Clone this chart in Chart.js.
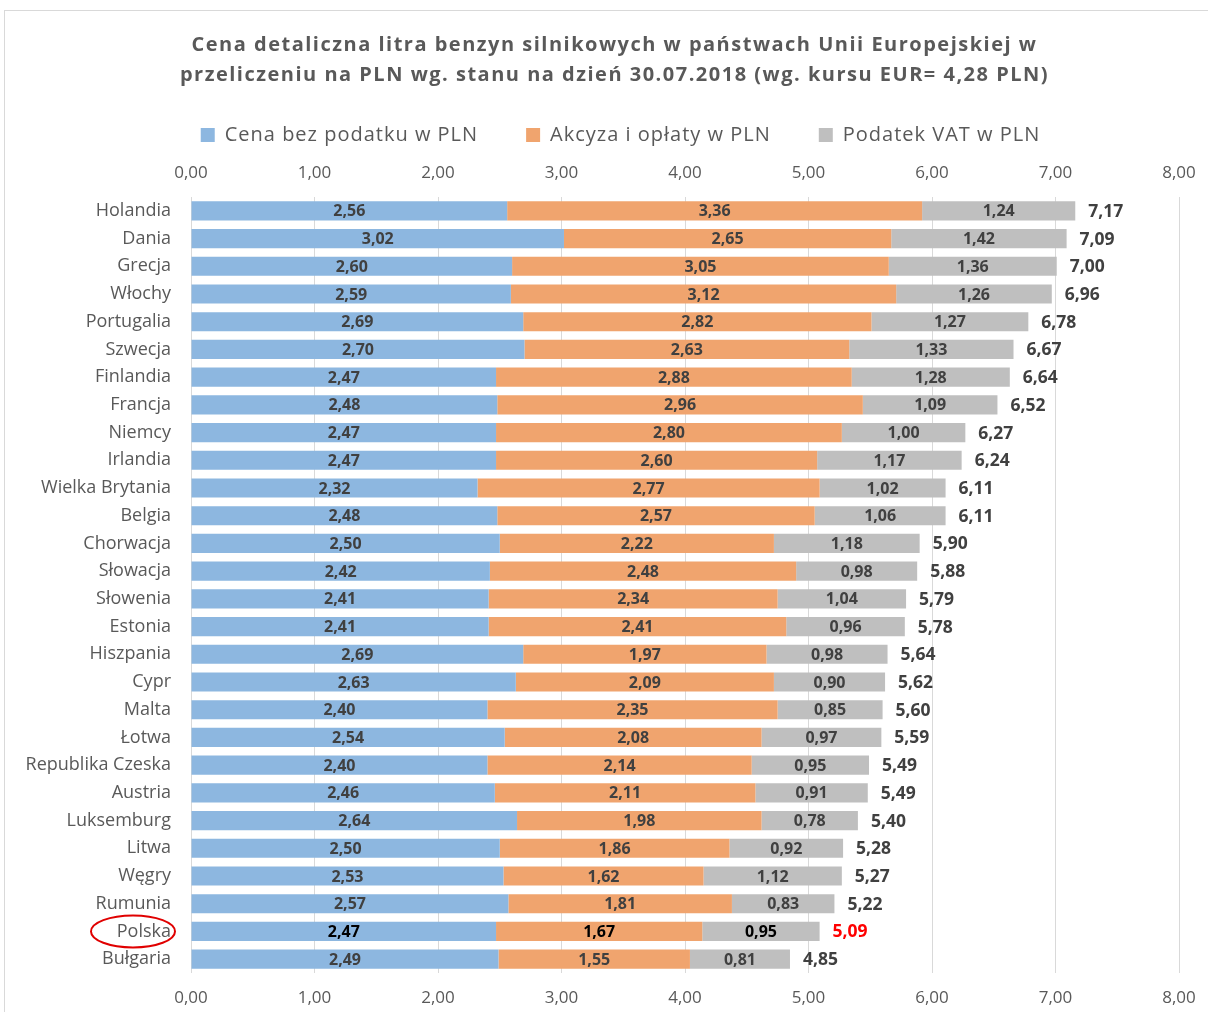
<!DOCTYPE html>
<html>
<head>
<meta charset="utf-8">
<script src="https://cdn.jsdelivr.net/npm/chart.js@4.4.1/dist/chart.umd.min.js"></script>
<style>
  html, body { margin: 0; padding: 0; background: #fff; }
  #wrap { width: 1208px; height: 1012px; position: relative; }
</style>
</head>
<body>
<div id="wrap"><canvas id="c" width="1208" height="1012"></canvas></div>
<script>
const titleLines = [
  'Cena detaliczna litra benzyn silnikowych w państwach Unii Europejskiej w',
  'przeliczeniu na PLN wg. stanu na dzień 30.07.2018 (wg. kursu EUR= 4,28 PLN)'
];
const seriesNames = ['Cena bez podatku w PLN', 'Akcyza i opłaty w PLN', 'Podatek VAT w PLN'];
const countries = ['Holandia','Dania','Grecja','Włochy','Portugalia','Szwecja','Finlandia','Francja','Niemcy','Irlandia','Wielka Brytania','Belgia','Chorwacja','Słowacja','Słowenia','Estonia','Hiszpania','Cypr','Malta','Łotwa','Republika Czeska','Austria','Luksemburg','Litwa','Węgry','Rumunia','Polska','Bułgaria'];
const netPrice = [2.56,3.02,2.60,2.59,2.69,2.70,2.47,2.48,2.47,2.47,2.32,2.48,2.50,2.42,2.41,2.41,2.69,2.63,2.40,2.54,2.40,2.46,2.64,2.50,2.53,2.57,2.47,2.49];
const excise = [3.36,2.65,3.05,3.12,2.82,2.63,2.88,2.96,2.80,2.60,2.77,2.57,2.22,2.48,2.34,2.41,1.97,2.09,2.35,2.08,2.14,2.11,1.98,1.86,1.62,1.81,1.67,1.55];
const vat = [1.24,1.42,1.36,1.26,1.27,1.33,1.28,1.09,1.00,1.17,1.02,1.06,1.18,0.98,1.04,0.96,0.98,0.90,0.85,0.97,0.95,0.91,0.78,0.92,1.12,0.83,0.95,0.81];
const totals = [7.17,7.09,7.00,6.96,6.78,6.67,6.64,6.52,6.27,6.24,6.11,6.11,5.90,5.88,5.79,5.78,5.64,5.62,5.60,5.59,5.49,5.49,5.40,5.28,5.27,5.22,5.09,4.85];
const xTickLabels = ['0,00','1,00','2,00','3,00','4,00','5,00','6,00','7,00','8,00'];
const highlightCountry = 'Polska';

const FONT = '"Open Sans", Lato, sans-serif';
const colors = ['#8DB7E0', '#F0A46E', '#BFBFBF'];
const fmt = v => v.toFixed(2).replace('.', ',');

function withSpacing(obj, methods, sp, shiftX) {
  if (!obj || obj._spPatched) return;
  obj._spPatched = true;
  methods.forEach(m => {
    const orig = obj[m].bind(obj);
    obj[m] = function (...args) {
      const c = this.ctx;
      const prev = c.letterSpacing || '0px';
      c.letterSpacing = sp;
      const isDraw = m === 'draw';
      if (isDraw) { c.save(); c.translate(shiftX, 0); }
      const r = orig(...args);
      if (isDraw) { c.restore(); }
      c.letterSpacing = prev;
      return r;
    };
  });
}

const spacingPlugin = {
  id: 'spacing',
  beforeLayout(chart) {
    withSpacing(chart.titleBlock, ['draw'], '1.5px', 25);
    withSpacing(chart.legend, ['fit', 'draw'], '1px', 31);
  }
};

const framePlugin = {
  id: 'frame',
  beforeDraw(chart) {
    const ctx = chart.ctx;
    ctx.save();
    ctx.fillStyle = '#fff';
    ctx.fillRect(0, 0, chart.width, chart.height);
    ctx.strokeStyle = '#D9D9D9';
    ctx.lineWidth = 1;
    ctx.strokeRect(4.5, 10.5, 1400, 1200);
    ctx.restore();
  }
};

const labelPlugin = {
  id: 'valueLabels',
  afterDraw(chart) {
    const ctx = chart.ctx;
    const hi = countries.indexOf(highlightCountry);
    ctx.save();
    ctx.textBaseline = 'middle';
    chart.data.datasets.forEach((ds, di) => {
      const meta = chart.getDatasetMeta(di);
      meta.data.forEach((bar, i) => {
        const p = bar.getProps(['x', 'y', 'base'], true);
        ctx.font = 'bold 16px ' + FONT;
        ctx.fillStyle = i === hi ? '#000000' : '#404040';
        ctx.textAlign = 'center';
        ctx.fillText(fmt(ds.data[i]), (p.x + p.base) / 2, p.y + 1);
      });
    });
    const xs = chart.scales.x;
    const ys = chart.scales.y;
    totals.forEach((t, i) => {
      const sum = netPrice[i] + excise[i] + vat[i];
      ctx.font = 'bold 17.5px ' + FONT;
      ctx.fillStyle = i === hi ? '#FF0000' : '#404040';
      ctx.textAlign = 'left';
      ctx.fillText(fmt(t), xs.getPixelForValue(sum) + 13, ys.getPixelForValue(i) + 1);
    });
    if (hi >= 0) {
      const cy = ys.getPixelForValue(hi);
      ctx.beginPath();
      ctx.ellipse(133, cy, 42, 16, 0, 0, Math.PI * 2);
      ctx.strokeStyle = '#E00000';
      ctx.lineWidth = 2;
      ctx.stroke();
    }
    ctx.restore();
  }
};

new Chart(document.getElementById('c'), {
  type: 'bar',
  data: {
    labels: countries,
    datasets: [
      { label: seriesNames[0], data: netPrice, backgroundColor: colors[0] },
      { label: seriesNames[1], data: excise, backgroundColor: colors[1] },
      { label: seriesNames[2], data: vat, backgroundColor: colors[2] }
    ]
  },
  options: {
    indexAxis: 'y',
    responsive: false,
    animation: false,
    devicePixelRatio: 1,
    layout: { padding: { top: 0, right: 29, bottom: 0, left: 0 } },
    datasets: { bar: { categoryPercentage: 1, barPercentage: 0.69, borderWidth: 0 } },
    plugins: {
      tooltip: { enabled: false },
      title: {
        display: true,
        text: titleLines,
        color: '#595959',
        font: { family: FONT, size: 20, weight: 'bold', lineHeight: '30px' },
        padding: { top: 30, bottom: -13 }
      },
      legend: {
        position: 'top',
        labels: {
          color: '#595959',
          font: { family: FONT, size: 20 },
          boxWidth: 14,
          boxHeight: 14,
          padding: 48
        }
      }
    },
    scales: {
      x: {
        position: 'top',
        stacked: true,
        min: 0, max: 8,
        z: 1,
        afterBuildTicks(s) { s.ticks = xTickLabels.map((_, k) => ({ value: k })); },
        ticks: {
          callback: (v, k) => xTickLabels[k],
          color: '#595959',
          font: { family: FONT, size: 17 },
          padding: 14,
          maxRotation: 0
        },
        grid: { color: 'rgba(0,0,0,0.15)', drawTicks: false, tickLength: 0 },
        border: { display: false },
        afterFit(s) { s.height = 42; s.paddingLeft = 0; s.paddingRight = 0; }
      },
      x2: {
        position: 'bottom',
        type: 'linear',
        min: 0, max: 8,
        afterBuildTicks(s) { s.ticks = xTickLabels.map((_, k) => ({ value: k })); },
        ticks: {
          callback: (v, k) => xTickLabels[k],
          color: '#595959',
          font: { family: FONT, size: 17 },
          padding: 15,
          maxRotation: 0
        },
        grid: { display: false, drawTicks: false },
        border: { display: false },
        afterFit(s) { s.height = 39; s.paddingLeft = 0; s.paddingRight = 0; }
      },
      y: {
        stacked: true,
        ticks: {
          color: '#595959',
          font: { family: FONT, size: 18 },
          padding: 20,
          autoSkip: false
        },
        grid: { display: false, drawTicks: false },
        border: { display: false },
        afterFit(s) { s.width = 191; }
      }
    }
  },
  plugins: [spacingPlugin, framePlugin, labelPlugin]
});
</script>
</body>
</html>
